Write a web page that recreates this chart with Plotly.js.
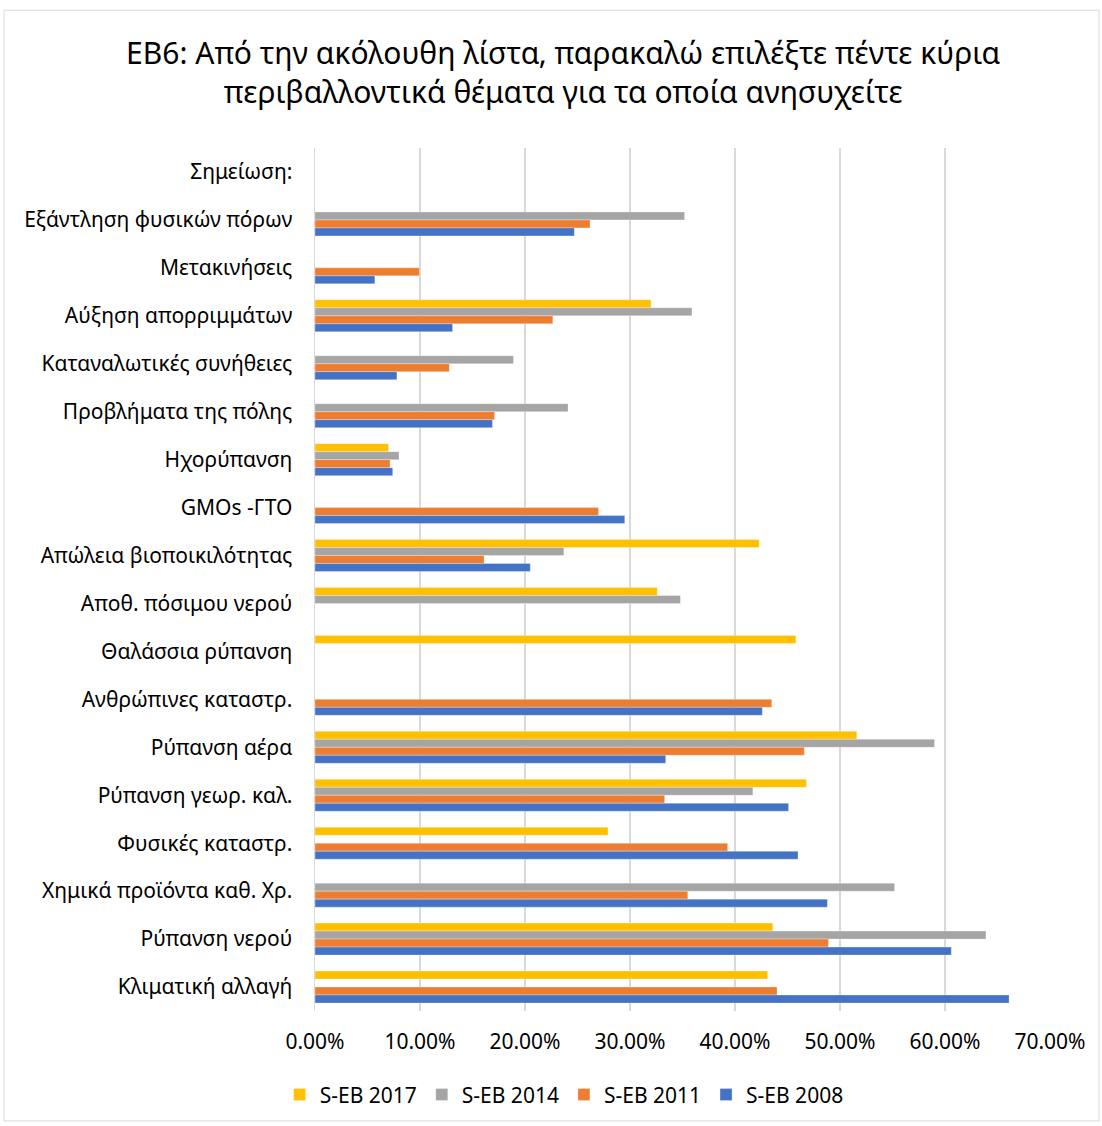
<!DOCTYPE html>
<html>
<head>
<meta charset="utf-8">
<script src="https://cdn.plot.ly/plotly-3.0.1.min.js"></script>
<style>
html,body{margin:0;padding:0;background:#fff;}
#chart{width:1102px;height:1126px;}
</style>
</head>
<body>
<div id="chart"></div>
<script>
// Categories, top to bottom as shown
const categories = [
  "Σημείωση:",
  "Εξάντληση φυσικών πόρων",
  "Μετακινήσεις",
  "Αύξηση απορριμμάτων",
  "Καταναλωτικές συνήθειες",
  "Προβλήματα της πόλης",
  "Ηχορύπανση",
  "GMOs -ΓΤΟ",
  "Απώλεια βιοποικιλότητας",
  "Αποθ. πόσιμου νερού",
  "Θαλάσσια ρύπανση",
  "Ανθρώπινες καταστρ.",
  "Ρύπανση αέρα",
  "Ρύπανση γεωρ. καλ.",
  "Φυσικές καταστρ.",
  "Χημικά προϊόντα καθ. Χρ.",
  "Ρύπανση νερού",
  "Κλιματική αλλαγή"
];

// Values in percent (null = no data)
const seb2017 = [null, null, null, 32.0, null, null, 7.0, null, 42.3, 32.6, 45.8, null, 51.6, 46.8, 27.9, null, 43.6, 43.1];
const seb2014 = [null, 35.2, null, 35.9, 18.9, 24.1, 8.0, null, 23.7, 34.8, null, null, 59.0, 41.7, null, 55.2, 63.9, null];
const seb2011 = [null, 26.2, 9.95, 22.65, 12.8, 17.1, 7.15, 27.0, 16.1, null, null, 43.5, 46.6, 33.3, 39.3, 35.5, 48.9, 44.0];
const seb2008 = [null, 24.7, 5.7, 13.1, 7.8, 16.9, 7.4, 29.5, 20.5, null, null, 42.6, 33.4, 45.1, 46.0, 48.8, 60.6, 66.1];

const seriesNames = ["S-EB 2017", "S-EB 2014", "S-EB 2011", "S-EB 2008"];
const seriesColors = ["#FFC000", "#A5A5A5", "#ED7D31", "#4472C4"];
const seriesValues = [seb2017, seb2014, seb2011, seb2008];

const xTickVals = [0, 0.1, 0.2, 0.3, 0.4, 0.5, 0.6, 0.7];

const FONT = "Noto Sans, Open Sans, DejaVu Sans, sans-serif";

const traces = seriesValues.map((vals, i) => ({
  type: "bar",
  orientation: "h",
  name: seriesNames[i],
  y: categories,
  x: vals.map(v => v === null ? null : v / 100),
  marker: { color: seriesColors[i], line: { color: "rgba(255,255,255,0.6)", width: 0.5 } },
  hoverinfo: "x+y+name"
}));

const layout = {
  width: 1102,
  height: 1126,
  paper_bgcolor: "#ffffff",
  plot_bgcolor: "#ffffff",
  margin: { l: 315, r: 52, t: 148, b: 114, pad: 0 },
  font: { family: FONT, color: "#000000", size: 21 },
  title: {
    text: "EB6: Από την ακόλουθη λίστα, παρακαλώ επιλέξτε πέντε κύρια<br>περιβαλλοντικά θέματα για τα οποία ανησυχείτε",
    font: { family: FONT, size: 30, color: "#000000" },
    x: 0.511, xanchor: "center", xref: "container",
    y: 0.943, yanchor: "middle", yref: "container"
  },
  barmode: "group",
  bargap: 0.333,
  bargroupgap: 0,
  xaxis: {
    range: [0, 0.7],
    tickvals: xTickVals,
    tickformat: ".2%",
    showgrid: true,
    gridcolor: "#d9d9d9",
    gridwidth: 1.5,
    zeroline: false,
    showline: false,
    ticks: "",
    ticklabelstandoff: 16,
    tickfont: { family: FONT, size: 21, color: "#000000" },
    fixedrange: true
  },
  yaxis: {
    type: "category",
    autorange: "reversed",
    showgrid: false,
    zeroline: false,
    showline: true,
    linecolor: "#d9d9d9",
    linewidth: 1.5,
    ticks: "",
    ticklabelstandoff: 17,
    tickfont: { family: FONT, size: 21, color: "#000000" },
    fixedrange: true
  },
  legend: {
    orientation: "h",
    x: 0.339, xref: "paper", xanchor: "center",
    y: -0.096, yanchor: "middle",
    traceorder: "normal",
    font: { family: FONT, size: 21, color: "#000000" },
    itemwidth: 30,
    bgcolor: "rgba(0,0,0,0)"
  },
  shapes: [
    {
      type: "rect", xref: "paper", yref: "paper",
      x0: -0.4231, x1: 1.0667, y0: -0.1273, y1: 1.1597,
      line: { color: "#d9d9d9", width: 1 },
      fillcolor: "rgba(0,0,0,0)",
      layer: "below"
    }
  ],
  showlegend: true
};

Plotly.newPlot("chart", traces, layout, { displayModeBar: false, staticPlot: true });
</script>
</body>
</html>
